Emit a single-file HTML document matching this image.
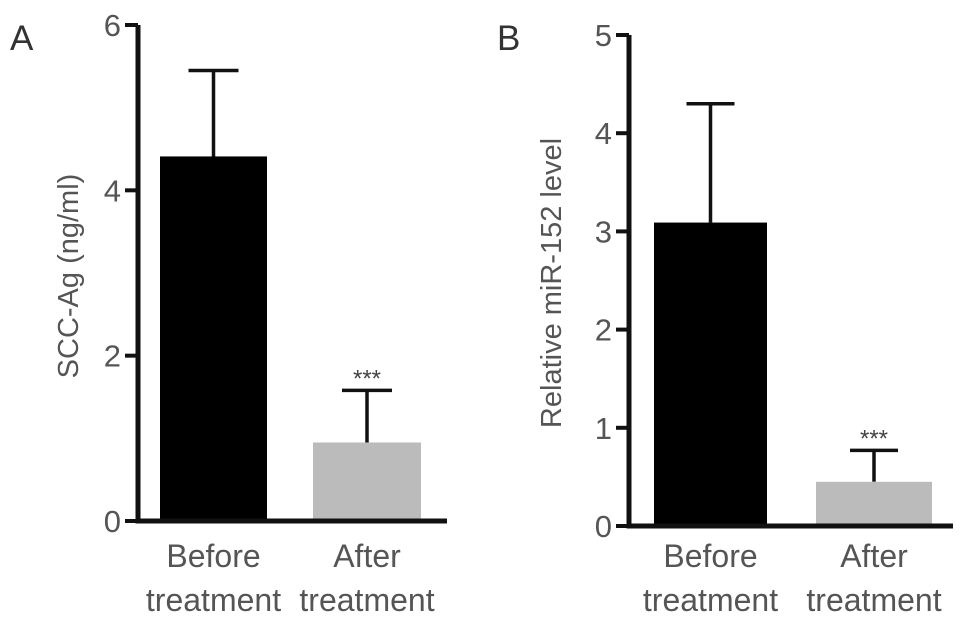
<!DOCTYPE html>
<html><head><meta charset="utf-8"><style>
body{margin:0;background:#fff;}
svg{display:block;font-family:"Liberation Sans",sans-serif;}
</style></head><body>
<svg id="chart" width="969" height="621" viewBox="0 0 969 621"></svg>
<script>
const categories = ["Before|treatment", "After|treatment"];
const valuesA = [4.41, 0.95];
const errorsA = [5.45, 1.58];
const ticksA = [0, 2, 4, 6];
const valuesB = [3.09, 0.45];
const errorsB = [4.30, 0.77];
const ticksB = [0, 1, 2, 3, 4, 5];
const sigLabels = ["", "***"];

const NS = "http://www.w3.org/2000/svg";
const svg = document.getElementById("chart");
function mk(tag, attrs, parent, text){
  const e = document.createElementNS(NS, tag);
  for (const k in attrs) e.setAttribute(k, attrs[k]);
  if (text !== undefined) e.textContent = text;
  (parent || svg).appendChild(e);
  return e;
}

function panel(cfg){
  const g = mk("g", {});
  
  
  const y = v => cfg.y0 - (v - 0) / cfg.ymax * (cfg.y0 - cfg.yTop);
  const L = mk("text", {x: cfg.letterX, y: 50, "font-size": 35, fill: "#333"}, g, cfg.letter);
  
  
  const t = mk("text", {x: 0, y: 0, "font-size": 29, fill: "#555", "text-anchor": "middle",
    transform: `translate(${cfg.titleX},${cfg.titleY}) rotate(-90)`}, g, cfg.title);
  
  
  cfg.values.forEach((v, i) => {
    const b = cfg.bars[i];
    const cx = (b[0] + b[1]) / 2;
    const eb = mk("path", {d: `M${cx} ${y(v)} V${y(cfg.errors[i])} M${cx-cfg.capW} ${y(cfg.errors[i])} H${cx+cfg.capW}`,
      stroke: "#111", "stroke-width": 3.5, fill: "none"}, g);
    
    
    const r = mk("rect", {x: b[0], y: y(v), width: b[1]-b[0], height: y(0)-y(v), fill: i === 0 ? "#000" : "#bbbbbb"}, g);
    
    
    if (sigLabels[i]) {
      const s = mk("text", {x: cx, y: y(cfg.errors[i]) - 4, "font-size": 24, fill: "#444", "text-anchor": "middle"}, g, sigLabels[i]);
      
      
    }
    const parts = categories[i].split("|");
    parts.forEach((p, j) => {
      const tx = mk("text", {x: cx, y: 567 + j*44, "font-size": 32, fill: "#555", "text-anchor": "middle"}, g, p);
      
      
    });
  });
  const ax = mk("path", {d: `M${cfg.ax} ${cfg.yTop} V${cfg.y0} H${cfg.xEnd}`, stroke: "#111", "stroke-width": 5, fill: "none"}, g);
  
  
  cfg.ticks.forEach(tv => {
    const tk = mk("line", {x1: cfg.ax - 13, x2: cfg.ax, y1: y(tv), y2: y(tv), stroke: "#111", "stroke-width": 4}, g);
    
    
    const tl = mk("text", {x: cfg.ax - 17, y: y(tv) + 11, "font-size": 31, fill: "#555", "text-anchor": "end"}, g, String(tv));
    
    
  });
}

panel({name: "panel-a", letter: "A", letterX: 10, title: "SCC-Ag (ng/ml)", titleX: 78, titleY: 276,
  values: valuesA, errors: errorsA, ticks: ticksA, ymax: 6, y0: 521, yTop: 25,
  ax: 138, xEnd: 447, bars: [[160, 267], [313, 421]], capW: 25});
panel({name: "panel-b", letter: "B", letterX: 497, title: "Relative miR-152 level", titleX: 561, titleY: 283,
  values: valuesB, errors: errorsB, ticks: ticksB, ymax: 5, y0: 526, yTop: 35,
  ax: 629, xEnd: 953, bars: [[654, 767], [816, 932]], capW: 24});
</script>
</body></html>
